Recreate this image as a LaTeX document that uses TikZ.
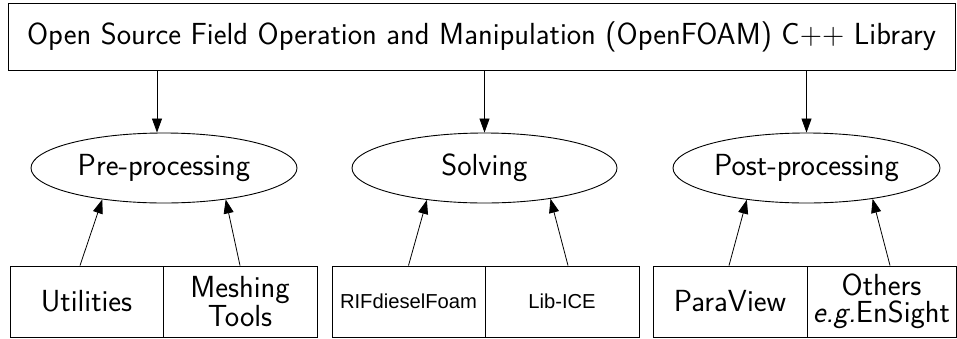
\documentclass[tikz,border=0pt]{standalone}
\usepackage{fontspec}
\newfontfamily\helv{Liberation Sans}
\usetikzlibrary{shapes.geometric,arrows.meta}
\begin{document}
\begin{tikzpicture}[x=1pt,y=-1pt,
  font=\sffamily\fontsize{30.5}{27}\selectfont,
  every node/.style={inner sep=0pt, line width=0.9pt},
  box/.style={draw, rectangle, minimum height=71pt, align=center},
  stage/.style={draw, ellipse, minimum height=70pt},
  arr/.style={line width=0.8pt, -{Triangle[length=14pt,width=10pt]}},
  helvtext/.style={font=\helv\fontsize{20.2}{24}\selectfont}]
\useasboundingbox (0,0) rectangle (957,338);
\node[draw, rectangle, minimum width=947pt, minimum height=67pt] (lib) at (481.5,36.5)
  {Open Source Field Operation and Manipulation (OpenFOAM) C++ Library};
\node[stage, minimum width=266pt] (pre) at (164,168) {Pre-processing};
\node[stage, minimum width=265pt] (sol) at (484.5,168) {Solving};
\node[stage, minimum width=267pt] (post) at (806.5,168) {Post-processing};
\node[box, minimum width=153pt] (util) at (86.5,301.5) {Utilities};
\node[box, minimum width=154pt] (mesh) at (240,301.5) {Meshing\\Tools};
\node[box, minimum width=153pt, helvtext] (rif) at (408.5,301.5) {RIFdieselFoam};
\node[box, minimum width=154pt, helvtext] (lice) at (562,301.5) {Lib-ICE};
\node[box, minimum width=154pt] (para) at (730,301.5) {ParaView};
\node[box, minimum width=149pt] (oth) at (881.5,301.5) {Others\\\textit{e.g.}EnSight};
\draw[arr] ([xshift=-7pt]lib.south -| pre.north) -- ([xshift=-7pt]pre.north);
\draw[arr] (lib.south -| sol.north) -- (sol.north);
\draw[arr] (lib.south -| post.north) -- (post.north);
\draw[arr] ([xshift=-6.5pt]util.north) -- (pre.207);
\draw[arr] (mesh.north) -- (pre.333);
\draw[arr] (rif.north) -- (sol.209.5);
\draw[arr] ([xshift=6pt]lice.north) -- (sol.335.3);
\draw[arr] ([xshift=-1pt]para.north) -- (post.208.5);
\draw[arr] ([xshift=8.5pt]oth.north) -- (post.335);
\end{tikzpicture}
\end{document}
